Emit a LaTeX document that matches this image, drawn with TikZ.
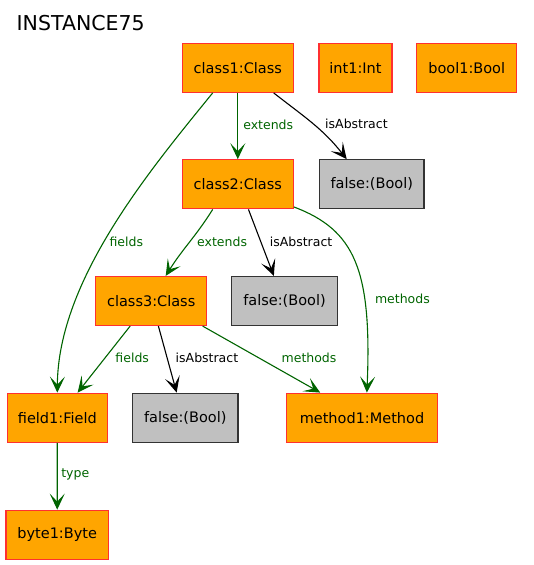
\documentclass[tikz,border=0pt]{standalone}
\usepackage{fontspec}
\setmainfont{DejaVu Sans}
\usetikzlibrary{arrows.meta,calc}
\definecolor{objfill}{HTML}{FFA500}
\definecolor{objline}{HTML}{FF3030}
\definecolor{valfill}{HTML}{C0C0C0}
\definecolor{valline}{HTML}{333333}
\definecolor{linkgreen}{HTML}{006400}

\begin{document}
\begin{tikzpicture}[x=1pt,y=-1pt,% y runs downwards, as in the picture
					every node/.style={
						align=center,
						inner sep=0pt
						},
					obj/.style={rectangle,draw=objline,fill=objfill,line width=1.2pt,minimum height=49pt,font=\fontsize{14.5}{17}\selectfont},
					val/.style={rectangle,draw=valline,fill=valfill,line width=1.2pt,minimum height=49pt,font=\fontsize{14.5}{17}\selectfont},
					lbl/.style={anchor=west,font=\fontsize{12.5}{15}\selectfont},
					glbl/.style={lbl,text=linkgreen},
					link/.style={draw,line width=1.1pt,-{Stealth[length=16pt,width=15pt,inset=8pt]}},
					every edge/.style={link},
					ref/.style={draw=linkgreen},
					attr/.style={draw=black}
					]
\useasboundingbox (0,0) rectangle (533,565);
\node[anchor=west,font=\fontsize{20.5}{24}\selectfont](title) at (16.5,23.5){INSTANCE75};
% objects
\node[obj,minimum width=111pt](class1) at (237.8,67.8){class1:Class};
\node[obj,minimum width=73pt](int1) at (355.5,67.8){int1:Int};
\node[obj,minimum width=100pt](bool1) at (466.7,67.8){bool1:Bool};
\node[obj,minimum width=111pt](class2) at (237.8,184.3){class2:Class};
\node[val,minimum width=104.5pt](false1) at (371.8,184.3){false:(Bool)};
\node[obj,minimum width=111pt](class3) at (151.2,301){class3:Class};
\node[val,minimum width=106pt](false2) at (284.5,301){false:(Bool)};
\node[obj,minimum width=100pt](field1) at (57.3,417.7){field1:Field};
\node[val,minimum width=105.5pt](false3) at (185.3,417.7){false:(Bool)};
\node[obj,minimum width=151.5pt](method1) at (362,417.7){method1:Method};
\node[obj,minimum width=102.5pt](byte1) at (57.2,534.7){byte1:Byte};
% links
\path
(class1)edge [ref]                node [glbl,pos=0.475,xshift=5pt] {extends} (class2)
(class1.-35)edge [attr,out=-38,in=128] node [lbl,pos=0.5,xshift=12pt] {isAbstract} (false1.135)
(class2.-135)edge [ref,out=-122,in=58] node [glbl,pos=0.49,xshift=7pt] {extends} (class3.60)
(class2.-67)edge [attr]           node [lbl,pos=0.486,xshift=8.5pt] {isAbstract} (false2.113)
(class3.-130)edge [ref]           node [glbl,pos=0.48,xshift=10pt] {fields} (field1.51)
(class3.-74)edge [attr]           node [lbl,pos=0.48,xshift=8pt] {isAbstract} (false3.109)
(class3.-26)edge [ref]            node [glbl,pos=0.48,xshift=22pt] {methods} (method1.149)
(field1)edge [ref]                node [glbl,pos=0.48,xshift=3.5pt] {type} (byte1)
;
\draw[link,ref] (class1.-135) .. controls (150,170) and (58,280) .. node [glbl,pos=0.54,xshift=4.5pt] {fields} (field1.north);
\draw[link,ref] (class2.-22) .. controls (355,230) and (372,270) .. node [glbl,pos=0.685,xshift=10pt] {methods} (method1.79);
\end{tikzpicture}
\end{document}
